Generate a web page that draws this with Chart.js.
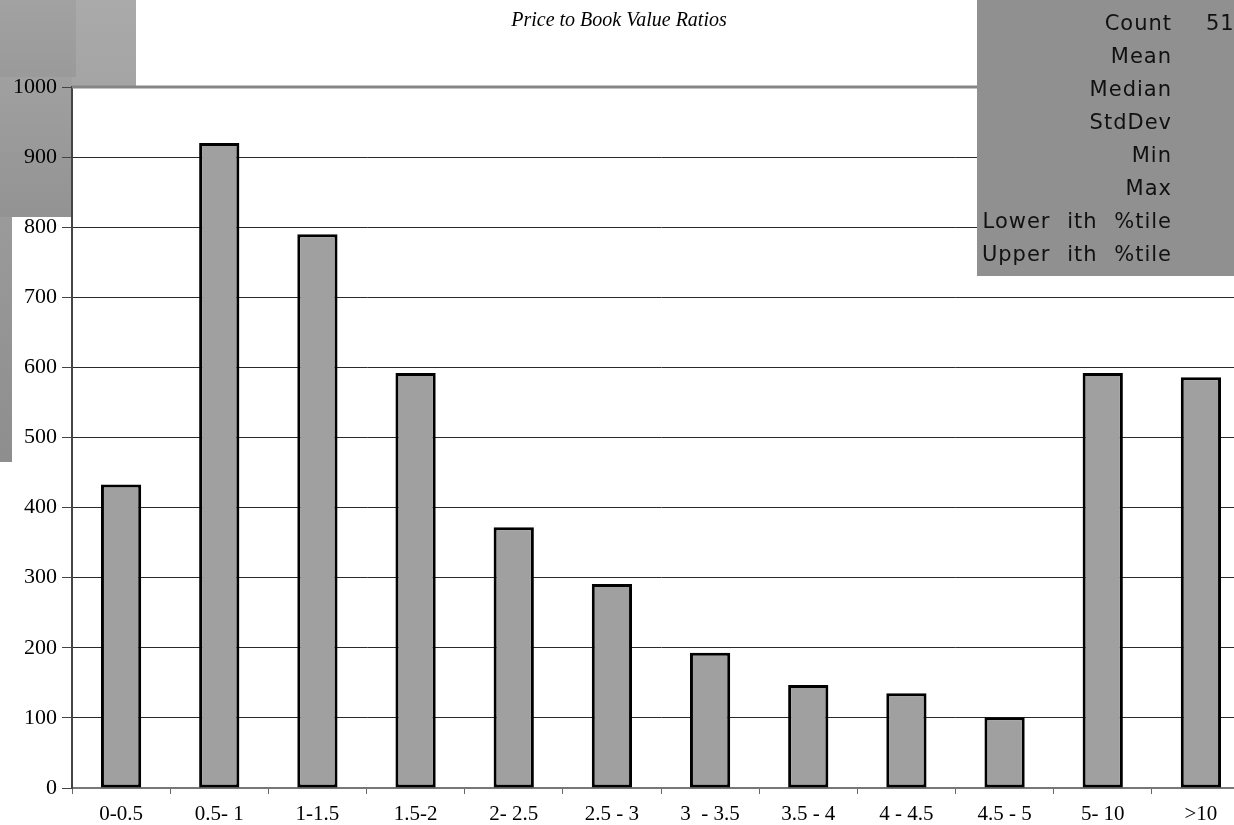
<!DOCTYPE html>
<html>
<head>
<meta charset="utf-8">
<script src="https://cdn.jsdelivr.net/npm/chart.js@4/dist/chart.umd.min.js"></script>
<style>
  html, body { margin: 0; padding: 0; background: #fff; overflow: hidden; width: 1234px; height: 825px; }
  #wrap { position: relative; width: 1270px; height: 825px; }
</style>
</head>
<body>
<div id="wrap"><canvas id="c" width="1270" height="825"></canvas></div>
<script>
// Price-to-book ratio buckets and number of firms in each
const categories = ['0-0.5', '0.5- 1', '1-1.5', '1.5-2', '2- 2.5', '2.5 - 3', '3  - 3.5', '3.5 - 4', '4 - 4.5', '4.5 - 5', '5- 10', '>10'];
const firmCounts = [433, 920, 790, 592, 372, 291, 193, 147, 135, 101, 592, 586];
const yTicks = [0, 100, 200, 300, 400, 500, 600, 700, 800, 900, 1000];
const statLabels = ['Count', 'Mean', 'Median', 'StdDev', 'Min', 'Max', 'Lower ith %tile', 'Upper ith %tile'];
const chartTitle = 'Price to Book Value Ratios';

const totalCount = firmCounts.reduce((a, b) => a + b, 0);

function vGrad(ctx, y0, y1, c0, c1) {
  const g = ctx.createLinearGradient(0, y0, 0, y1);
  g.addColorStop(0, c0);
  g.addColorStop(1, c1);
  return g;
}

// Grey panels behind the axis labels and the plot frame
const backdrop = {
  id: 'backdrop',
  beforeDraw(chart) {
    const ctx = chart.ctx;
    ctx.save();
    ctx.fillStyle = '#fff';
    ctx.fillRect(0, 0, chart.width, chart.height);
    ctx.fillStyle = vGrad(ctx, 0, 87, '#aaaaaa', '#a4a4a4');
    ctx.fillRect(0, 0, 136, 87);
    ctx.fillStyle = vGrad(ctx, 0, 77, '#a2a2a2', '#9a9a9a');
    ctx.fillRect(0, 0, 76, 77);
    ctx.fillStyle = vGrad(ctx, 77, 217, '#a0a0a0', '#939393');
    ctx.fillRect(0, 77, 72, 140);
    ctx.fillStyle = vGrad(ctx, 217, 462, '#9a9a9a', '#8e8e8e');
    ctx.fillRect(0, 217, 12, 245);
    ctx.restore();
  },
  beforeDatasetsDraw(chart) {
    const { ctx, chartArea } = chart;
    ctx.save();
    ctx.strokeStyle = '#858585';
    ctx.lineWidth = 3;
    ctx.beginPath();
    ctx.moveTo(chartArea.left, chartArea.top);
    ctx.lineTo(chart.width, chartArea.top);
    ctx.stroke();
    ctx.restore();
  }
};

// Title and summary statistics panel
const annotations = {
  id: 'annotations',
  afterDraw(chart) {
    const ctx = chart.ctx;
    ctx.save();
    ctx.fillStyle = '#000';
    ctx.font = 'italic 20px "Liberation Serif", "Times New Roman", serif';
    ctx.textAlign = 'center';
    ctx.textBaseline = 'middle';
    ctx.fillText(chartTitle, 619, 21);

    ctx.fillStyle = '#909090';
    ctx.fillRect(977, 0, 300, 276);

    ctx.fillStyle = '#111';
    ctx.font = '21px "DejaVu Sans", sans-serif';
    ctx.textAlign = 'right';
    ctx.textBaseline = 'middle';
    try { ctx.letterSpacing = '1px'; ctx.wordSpacing = '9px'; } catch (e) {}
    statLabels.forEach((s, i) => {
      ctx.fillText(s, 1172, 25 + i * 33);
    });
    ctx.textAlign = 'left';
    ctx.fillText(String(totalCount), 1206, 25);
    ctx.restore();
  }
};

new Chart(document.getElementById('c'), {
  type: 'bar',
  data: {
    labels: categories,
    datasets: [{
      data: firmCounts,
      backgroundColor: '#a0a0a0',
      borderColor: '#000',
      borderWidth: 3,
      borderSkipped: false,
      barPercentage: 0.41,
      categoryPercentage: 1.0
    }]
  },
  options: {
    responsive: false,
    animation: false,
    devicePixelRatio: 1,
    layout: { padding: { top: 87, right: 20, left: 0, bottom: 0 } },
    plugins: {
      legend: { display: false },
      title: { display: false },
      tooltip: { enabled: false }
    },
    scales: {
      x: {
        offset: true,
        afterFit(scale) { scale.height = 37; },
        grid: {
          offset: true,
          drawOnChartArea: false,
          drawTicks: true,
          tickLength: 6,
          color: '#666',
          lineWidth: 1
        },
        border: { display: true, color: '#777', width: 2 },
        ticks: {
          color: '#000',
          padding: 8,
          maxRotation: 0,
          autoSkip: false,
          font: { family: '"Liberation Serif", "Times New Roman", serif', size: 21 }
        }
      },
      y: {
        min: 0,
        max: 1000,
        afterFit(scale) { scale.width = 72; },
        afterBuildTicks(scale) { scale.ticks = yTicks.map(v => ({ value: v })); },
        grid: {
          color: '#2a2a2a',
          lineWidth: 1,
          drawTicks: true,
          tickLength: 10,
          tickColor: '#444'
        },
        border: { display: true, color: '#444', width: 2 },
        ticks: {
          color: '#000',
          padding: 5,
          callback: (v) => String(v),
          font: { family: '"Liberation Serif", "Times New Roman", serif', size: 22 }
        }
      }
    }
  },
  plugins: [backdrop, annotations]
});
</script>
</body>
</html>
